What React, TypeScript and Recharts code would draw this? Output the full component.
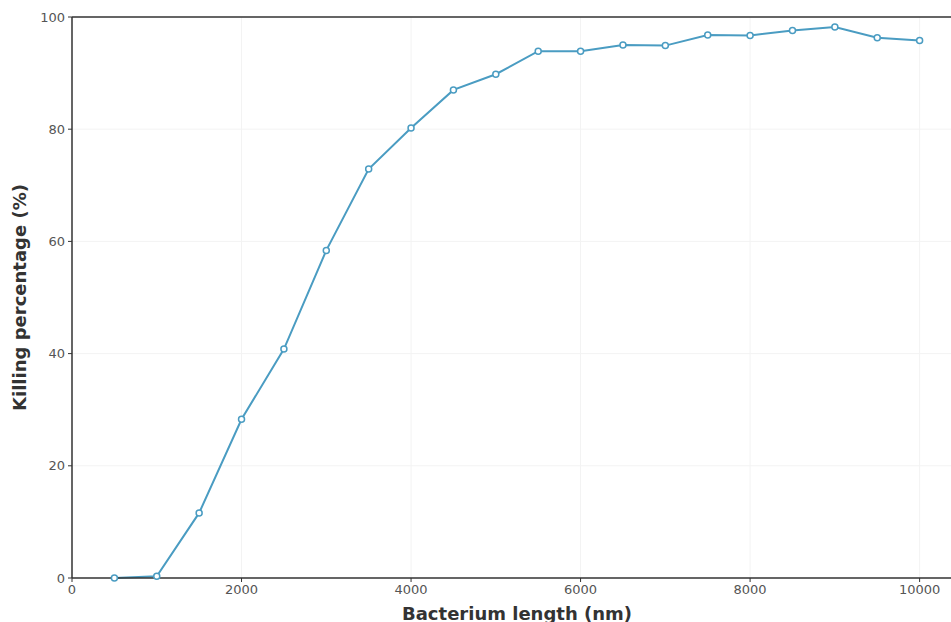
import { LineChart, Line, XAxis, YAxis, CartesianGrid, ReferenceLine } from 'recharts';

// ── Data ──────────────────────────────────────────────────────────────────────

const lengths = [500, 1000, 1500, 2000, 2500, 3000, 3500, 4000, 4500, 5000, 5500, 6000, 6500, 7000, 7500, 8000, 8500, 9000, 9500, 10000];
const killing = [0, 0.3, 11.6, 28.3, 40.8, 58.4, 72.9, 80.2, 87.0, 89.8, 93.9, 93.9, 95.0, 94.9, 96.8, 96.7, 97.6, 98.2, 96.3, 95.8];
const xTicks = [0, 2000, 4000, 6000, 8000, 10000];
const yTicks = [0, 20, 40, 60, 80, 100];

const data = lengths.map((len, i) => ({ len, kill: killing[i] }));

const LINE = '#4a9cc2';
const AXIS = '#333';
const tickStyle = { fontSize: 13, fontFamily: 'DejaVu Sans', fill: '#555' };
const labelStyle = { fontSize: 18, fontFamily: 'DejaVu Sans', fontWeight: 700, fill: '#333' };

export default function App() {
  return (
    <div style={{ position: 'absolute', left: 0, top: 0, width: 951, height: 622, overflow: 'hidden', background: '#fff' }}>
      <LineChart width={975} height={640} data={data} margin={{ top: 17, right: 13, left: 0, bottom: 22 }}>
        <CartesianGrid stroke="#f3f3f3" strokeWidth={1} />
        <XAxis
          dataKey="len"
          type="number"
          domain={[0, 10500]}
          ticks={xTicks}
          height={40}
          tick={tickStyle}
          tickSize={4}
          tickMargin={3}
          stroke={AXIS}
          axisLine={{ stroke: AXIS, strokeWidth: 1.5 }}
          tickLine={{ stroke: AXIS }}
          label={{ value: 'Bacterium length (nm)', position: 'insideBottom', offset: -2, style: labelStyle }}
        />
        <YAxis
          type="number"
          domain={[0, 100]}
          ticks={yTicks}
          width={72}
          tick={tickStyle}
          tickSize={4}
          tickMargin={3}
          axisLine={{ stroke: AXIS, strokeWidth: 1.5 }}
          tickLine={{ stroke: AXIS }}
          label={{ value: 'Killing percentage (%)', angle: -90, position: 'insideLeft', offset: 20, style: { ...labelStyle, textAnchor: 'middle' } }}
        />
        <ReferenceLine y={100} stroke={AXIS} strokeWidth={1.5} ifOverflow="visible" />
        <Line
          dataKey="kill"
          stroke={LINE}
          strokeWidth={2}
          dot={{ r: 3, fill: '#fff', stroke: LINE, strokeWidth: 1.5 }}
          isAnimationActive={false}
        />
      </LineChart>
    </div>
  );
}
